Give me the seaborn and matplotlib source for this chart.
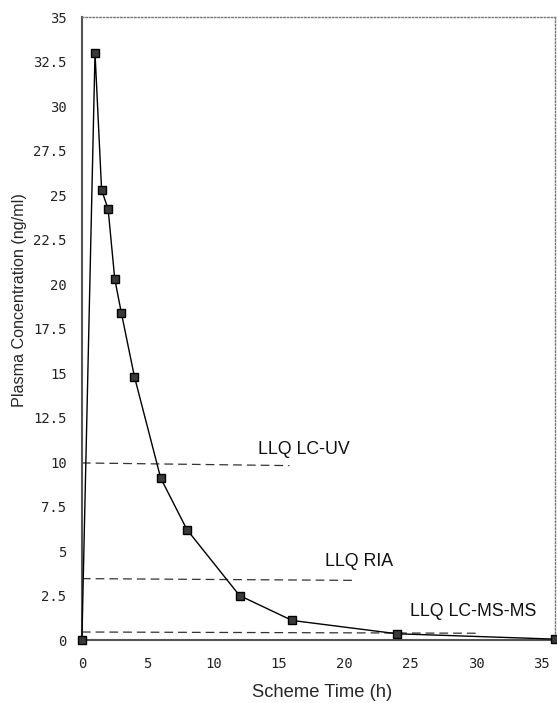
import matplotlib
matplotlib.use("Agg")
import matplotlib.pyplot as plt
import seaborn as sns
import pandas as pd

# concentration-time profile
time_h = [0, 1, 1.5, 2, 2.5, 3, 4, 6, 8, 12, 16, 24, 36]
conc = [0.0, 33.0, 25.3, 24.2, 20.3, 18.4, 14.8, 9.1, 6.2, 2.5, 1.1, 0.35, 0.05]

# lower limits of quantification (dashed lines: start/end x and y)
llq_names = ["LLQ LC-UV", "LLQ RIA", "LLQ LC-MS-MS"]
llq_x_end = [15.8, 20.9, 30.1]
llq_y_start = [9.95, 3.45, 0.45]
llq_y_end = [9.8, 3.35, 0.38]
llq_label_x = [13.4, 18.5, 25.0]
llq_label_y = [10.7, 4.4, 1.6]

y_ticks = [0, 2.5, 5, 7.5, 10, 12.5, 15, 17.5, 20, 22.5, 25, 27.5, 30, 32.5, 35]
x_ticks = [0, 5, 10, 15, 20, 25, 30, 35]

sns.set_style("white")
plt.rcParams["font.family"] = ["Liberation Sans", "DejaVu Sans"]

df = pd.DataFrame({"Time": time_h, "Conc": conc})

fig = plt.figure(figsize=(5.57, 7.03), dpi=100)
ax = fig.add_axes([0.147, 0.0896, 0.849, 0.886])

for name, xe, ys, ye, lx, ly in zip(llq_names, llq_x_end, llq_y_start, llq_y_end, llq_label_x, llq_label_y):
    sns.lineplot(x=[0, xe], y=[ys, ye], ax=ax, color="#333333", linewidth=0.9,
                 linestyle=(0, (7, 4)))
    ax.text(lx, ly, name, fontsize=12.8, va="center", ha="left", color="#111111")

sns.lineplot(data=df, x="Time", y="Conc", ax=ax, color="black", linewidth=1.0,
             marker="s", markersize=5.5, markerfacecolor="#3a3a3a",
             markeredgecolor="black", markeredgewidth=1.0)
# keep the end markers visible on the axes edges
ax.lines[-1].set_clip_on(False)
ax.lines[-1].set_zorder(5)

ax.set_xlim(0, 36)
ax.set_ylim(0, 35)
ax.set_xticks(x_ticks)
ax.set_yticks(y_ticks)
ax.set_xticklabels([f"{t:g}" for t in x_ticks], family="DejaVu Sans Mono", fontsize=10, color="#222222")
ax.set_yticklabels([f"{t:g}" for t in y_ticks], family="DejaVu Sans Mono", fontsize=10, color="#222222")
ax.tick_params(axis="both", direction="out", length=3, width=0.8, color="#555555")
ax.tick_params(axis="x", pad=9)
ax.tick_params(axis="y", pad=8)

ax.set_xlabel("Scheme Time (h)", fontsize=13.2, va="center")
ax.xaxis.set_label_coords(0.507, -0.085)
ax.set_ylabel("Plasma Concentration (ng/ml)", fontsize=11.6, va="center")
ax.yaxis.set_label_coords(-0.131, 0.546)

for side in ["left", "bottom"]:
    ax.spines[side].set_color("#555555")
    ax.spines[side].set_linewidth(1.5)
for side in ["top", "right"]:
    ax.spines[side].set_color("#777777")
    ax.spines[side].set_linewidth(1.0)
    ax.spines[side].set_linestyle((0, (1, 1.5)))

fig.savefig("out.png", dpi=100)
